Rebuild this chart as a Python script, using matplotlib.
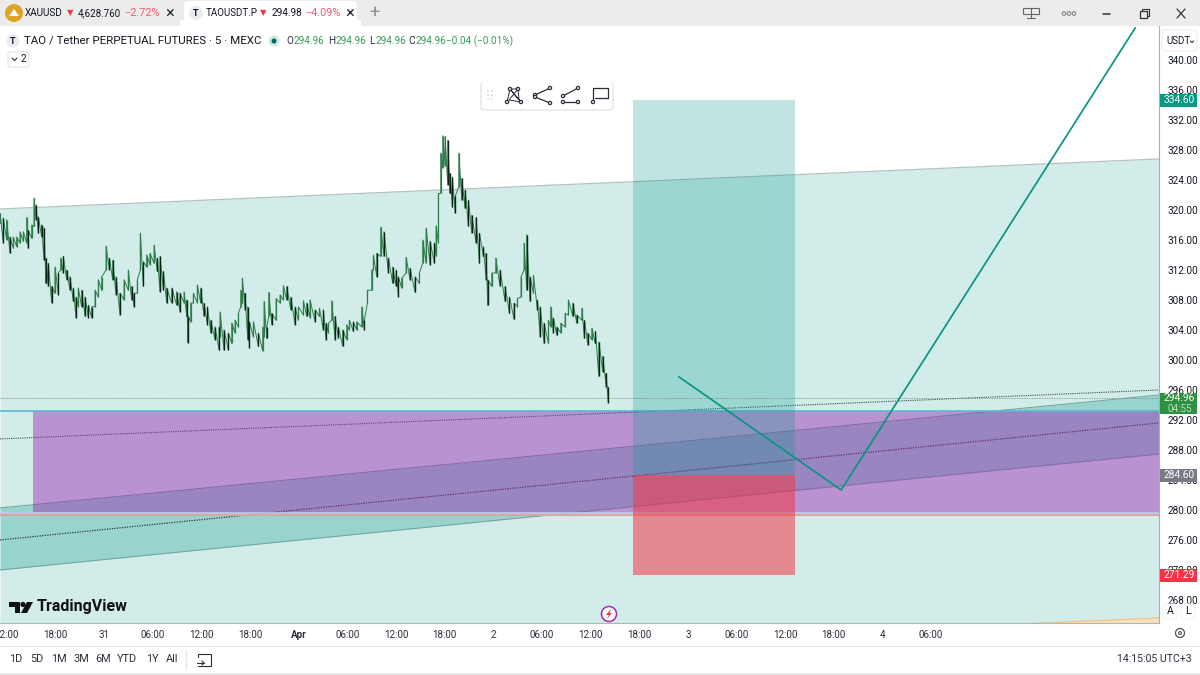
import matplotlib
matplotlib.use("Agg")
import matplotlib.pyplot as plt
from matplotlib.patches import Rectangle, FancyBboxPatch, Circle, Polygon
from matplotlib.transforms import blended_transform_factory
import numpy as np

plt.rcParams['font.family'] = ['Roboto', 'DejaVu Sans']

# hours since 31 Mar 00:00
bar_hours = [-12.83,-12.42,-12.01,-11.6,-11.19,-10.77,-10.36,-9.95,-9.54,-9.34,-8.92,-8.64,-8.39,-8.1,-7.69,-7.4,-7.16,-6.87,-6.46,-6.05,-5.63,-5.35,-5.02,-4.61,-4.2,-3.78,-3.46,-3.17,-2.76,-2.34,-1.93,-1.52,-1.11,-0.7,-0.29,0.25,0.66,1.07,1.48,1.97,2.47,3.0,3.41,3.7,4.11,4.48,4.85,5.26,5.67,6.17,6.58,6.91,7.32,7.73,8.35,8.96,9.37,9.87,10.2,10.36,10.69,11.02,11.51,11.92,12.33,12.75,13.16,13.69,14.19,14.31,14.8,15.34,15.75,16.16,16.57,16.86,17.06,17.39,17.72,17.93,18.42,19.04,19.57,19.74,20.07,20.31,20.68,21.22,21.71,22.12,22.53,23.03,23.56,23.97,24.59,25.0,25.41,26.03,26.56,
             27.05,27.38,27.67,28.08,28.49,28.9,29.44,29.93,30.26,30.75,31.16,31.78,32.11,32.48,33.01,33.22,33.63,34.12,34.53,35.07,35.6,36.02,36.3,36.71,37.25,37.74,38.36,38.89,39.3,39.72,40.21,40.74,40.95,41.24,41.52,41.77,42.06,42.39,42.68,42.96,43.29,43.75,44.12,44.53,44.94,45.35,45.88,46.3,46.79,47.12,47.32,47.82,48.31,48.84,49.46,50.0,50.57,50.98,51.43,51.8,52.13,52.54,52.96,53.45,53.78,54.27,54.81,55.09,55.42,55.83,56.33,56.86,57.27,57.81,58.3,58.92,59.25,59.66,60.15,60.6,61.02,61.51,61.92,62.17]
bar_high = [319.6,318.9,318.7,316.4,316.4,316.4,317.1,317.1,319.0,317.3,318.0,321.6,320.7,319.1,318.0,317.6,313.6,312.9,309.8,312.4,311.6,313.6,313.8,312.0,311.1,309.6,308.4,309.6,309.3,308.4,307.3,307.1,309.3,310.7,311.1,315.2,313.6,313.3,311.1,308.9,310.7,312.0,309.8,308.9,310.7,316.9,313.1,314.0,314.2,315.3,313.6,313.8,311.8,309.6,309.6,309.1,308.9,309.1,308.0,305.8,307.6,308.9,310.0,309.6,307.6,307.1,305.3,304.4,304.4,306.4,304.0,303.6,304.9,305.3,306.2,309.3,310.9,308.9,307.1,305.1,305.1,303.6,304.4,307.8,304.4,309.0,306.2,308.2,308.7,309.9,309.8,308.4,307.1,307.1,307.9,307.6,308.0,306.7,306.9,
            306.7,304.9,304.9,307.9,305.8,304.4,304.0,304.7,305.3,305.1,305.1,307.1,305.3,309.3,312.0,314.0,314.2,317.7,317.1,313.6,312.4,312.0,311.1,310.9,313.7,312.2,311.1,311.6,316.0,317.6,315.8,315.6,317.9,322.2,327.6,329.9,329.8,329.3,324.9,324.4,321.8,327.6,324.2,322.7,321.3,319.3,319.0,316.9,315.1,314.2,310.7,311.6,313.6,312.0,309.8,308.4,307.6,308.2,311.1,315.6,316.7,311.1,311.3,308.0,307.1,304.9,305.3,307.1,305.6,304.4,304.9,306.2,308.0,307.6,306.0,306.9,305.3,303.6,304.2,303.8,302.4,300.5,298.2,296.4]
bar_low = [318.2,315.6,316.0,314.2,314.9,315.1,315.6,315.8,315.6,314.9,316.2,317.8,318.7,316.9,316.4,313.3,310.2,309.8,307.6,308.9,308.7,312.0,311.6,310.7,309.3,307.8,305.6,307.1,307.1,305.8,305.6,305.6,307.1,308.4,309.3,312.0,312.0,310.7,308.7,306.0,308.0,309.3,308.0,307.1,308.9,312.0,309.8,312.4,312.7,312.9,311.8,309.1,309.3,307.6,307.6,307.3,306.4,307.6,305.8,302.3,305.1,307.6,307.6,307.6,305.8,304.7,303.6,302.7,301.3,303.1,301.3,301.3,302.2,303.6,304.4,307.1,307.6,306.7,302.7,301.6,303.1,301.8,301.2,303.1,302.9,305.8,304.7,305.3,307.6,308.0,308.0,306.7,304.7,305.3,306.0,305.8,305.6,305.1,305.8,
           304.0,302.7,303.6,305.3,302.7,302.9,301.8,302.7,304.0,303.8,304.0,304.4,304.0,307.6,309.3,312.0,311.1,313.8,313.8,311.6,310.2,309.8,308.4,309.6,311.6,310.7,309.0,310.2,312.9,312.9,312.7,312.9,313.8,315.6,322.2,325.6,325.8,323.3,322.2,320.4,319.6,323.1,321.3,320.2,317.8,316.9,315.6,312.9,313.8,310.7,307.3,309.8,311.6,309.8,307.8,306.2,305.4,307.1,308.4,312.0,309.3,307.8,308.9,306.7,303.1,302.2,302.2,304.4,303.6,303.3,303.6,304.4,306.0,305.8,304.9,305.3,302.9,302.0,302.7,302.2,297.8,298.4,296.4,294.3]

# drawings: price at the left and right pane edge
main_top = [320.13, 326.8]
main_mid = [289.47, 296.0]
main_bottom = [258.93, 265.6]
low_top = [280.27, 295.33]
low_mid = [276.0, 291.6]
low_bottom = [272.0, 287.47]

zone_start = -8.76
zone_top = 293.2
zone_bottom = 279.6
support_level = 279.3

pos_start = 65.24
pos_end = 85.23
pos_tp = 334.6
pos_entry = 284.6
pos_sl = 271.29

path_hours = [70.92, 90.9, 127.16]
path_price = [297.73, 282.67, 344.27]

last_price = 294.96

y_ticks = [268, 272, 276, 280, 284, 288, 292, 296, 300, 304, 308, 312, 316, 320, 324, 328, 332, 336, 340]
x_ticks = [-12, -6, 0, 6, 12, 18, 24, 30, 36, 42, 48, 54, 60, 66, 72, 78, 84, 90, 96, 102]
x_labels = ['12:00', '18:00', '31', '06:00', '12:00', '18:00', 'Apr', '06:00', '12:00', '18:00', '2', '06:00', '12:00', '18:00',
            '3', '06:00', '12:00', '18:00', '4', '06:00']
range_buttons = ['1D', '5D', '1M', '3M', '6M', 'YTD', '1Y', 'All']
range_x = [16, 37, 59, 81, 103, 127, 152, 172]

TEAL = '#009688'
INK = '#131722'
GREEN_TXT = '#3a9a5c'
RED_TXT = '#f23645'

fig = plt.figure(figsize=(12, 6.75), dpi=100, facecolor='white')
ax = fig.add_axes([0, 1 - 623 / 675, 1159 / 1200, (623 - 26) / 675])
left_h, right_h = -12.83, 130.1
ax.set_xlim(left_h, right_h)
ax.set_ylim(264.93, 344.53)
ends = [left_h, right_h]

# channels and zones
ax.fill_between(ends, main_bottom, main_top, color=TEAL, alpha=0.18, lw=0)
ax.fill_between(ends, main_bottom, [260, 260], color='#fbe0bd', lw=0, zorder=1.1)
ax.plot(ends, main_bottom, color='#f3c48c', lw=1)
ax.plot(ends, main_top, color='#b4c2c0', lw=0.9)
ax.plot(ends, main_mid, color='#40504e', lw=0.8, ls=(0, (1, 1)))
ax.fill_between(ends, low_bottom, low_top, color=TEAL, alpha=0.27, lw=0)
ax.plot(ends, low_top, color='#76a8a2', lw=0.8)
ax.plot(ends, low_bottom, color='#76a8a2', lw=0.8)
ax.plot(ends, low_mid, color='#2d3d3b', lw=0.9, ls=(0, (1, 1)))

ax.add_patch(Rectangle((zone_start, zone_bottom), right_h - zone_start, zone_top - zone_bottom,
                       facecolor='#9c27b0', alpha=0.45, lw=0, zorder=2))
ax.axhline(zone_top, color='#5cb6d6', lw=1.2, zorder=2.1)
ax.axhline(zone_bottom + 0.03, color='#b9cdea', lw=1.2, zorder=2.1)
ax.axhline(support_level, color='#d8a79f', lw=1.5, zorder=2.1)

ax.add_patch(Rectangle((pos_start, pos_entry), pos_end - pos_start, pos_tp - pos_entry,
                       facecolor=TEAL, alpha=0.25, lw=0, zorder=2.2))
ax.add_patch(Rectangle((pos_start, pos_sl), pos_end - pos_start, pos_entry - pos_sl,
                       facecolor='#f23645', alpha=0.55, lw=0, zorder=2.2))

ax.axhline(last_price, color='#7d8c8a', lw=0.6, ls=(0, (1, 1)), zorder=2.3)
ax.plot(path_hours, path_price, color='#0a9583', lw=1.25, zorder=3)

# price bars: a jagged line through lows and highs, then the bars on top
hours = np.array(bar_hours)
high = np.array(bar_high)
low = np.array(bar_low)
mid = (high + low) / 2
up = np.r_[True, np.diff(mid) > 0]
ax.plot(np.repeat(hours, 2), np.column_stack([low, high]).ravel(), color='#2f7d4b', lw=0.7, zorder=3.1)
ax.vlines(hours[up], low[up], high[up], color='#2f7d4b', lw=0.9, zorder=3.2)
ax.vlines(hours[~up], low[~up], high[~up], color='#0c2414', lw=1.0, zorder=3.3)

# axes
ax.set_yticks(y_ticks, [f'{v:.2f}' for v in y_ticks])
ax.yaxis.tick_right()
ax.set_xticks(x_ticks, x_labels)
ax.tick_params(axis='y', length=0, pad=6, labelsize=7.2, labelcolor=INK)
ax.tick_params(axis='x', length=0, pad=5, labelsize=7.1, labelcolor='#2a2e39')
for lab, txt in zip(ax.get_xticklabels(), x_labels):
    if txt == 'Apr':
        lab.set_fontweight('bold')
for s in ['top', 'left']:
    ax.spines[s].set_visible(False)
ax.spines['right'].set_color('#a9adb5')
ax.spines['bottom'].set_color('#9fbdb9')

# price flags on the scale
flag_tr = blended_transform_factory(ax.transAxes, ax.transData)
def flag(price, color, text, top=0.87, bottom=0.87):
    ax.add_patch(Rectangle((1.0007, price - bottom), 0.0325, top + bottom, transform=flag_tr,
                           facecolor=color, lw=0, clip_on=False, zorder=6))
    ax.text(1.0175, price, text, transform=flag_tr, ha='center', va='center',
            color='white', fontsize=7.3, clip_on=False, zorder=7)

flag(pos_tp, '#089981', '334.60')
flag(pos_entry, '#787b86', '284.60')
flag(pos_sl, '#f23645', '271.29')
flag(last_price, '#2e9141', '294.96', top=0.7, bottom=2.2)
ax.text(1.0175, last_price - 1.45, '04:55', transform=flag_tr, ha='center', va='center',
        color='#b9e0c0', fontsize=7.1, clip_on=False, zorder=7)

# window chrome in pixel space
ui = fig.add_axes([0, 0, 1, 1], zorder=10)
ui.set_xlim(0, 1200)
ui.set_ylim(675, 0)
ui.axis('off')

def label(x, y, s, size=7.3, color=INK, ha='left', **kw):
    ui.text(x, y, s, fontsize=size, color=color, ha=ha, va='center', **kw)

def segs(points, color='#3a3e48', lw=1.0):
    xs, ys = zip(*points)
    ui.plot(xs, ys, color=color, lw=lw, solid_capstyle='round')

def dot(x, y, r=1.6, fc='white', ec='#2a2e39', lw=0.9):
    ui.add_patch(Circle((x, y), r, facecolor=fc, edgecolor=ec, lw=lw, zorder=12))

ui.add_patch(Rectangle((0, 0), 1200, 26, facecolor='#ececec', lw=0))
ui.add_patch(FancyBboxPatch((184, 1), 173, 30, boxstyle='round,pad=0,rounding_size=5', facecolor='white', lw=0))
ui.add_patch(Rectangle((180, 20), 181, 6, facecolor='white', lw=0))

ui.add_patch(Circle((14, 13), 9, facecolor='#e0a526', lw=0))
ui.add_patch(Polygon([(9, 16), (14, 9), (19, 16)], facecolor='white', lw=0))
label(25, 13, 'XAUUSD', 7.2)
label(67, 13, '▼', 6, RED_TXT)
label(78, 13, '4,628.760', 7.0)
label(124, 13, '−2.72%', 7.8, '#ee5f6c')
label(165, 13, '×', 12, '#2a2e39')
ui.add_patch(Circle((196, 13), 7, facecolor='#e9ebf3', lw=0))
label(196, 13, 'T', 6.5, ha='center', fontweight='bold')
label(206, 13, 'TAOUSDT.P', 7.0)
label(260, 13, '▼', 6, RED_TXT)
label(272, 13, '294.98', 7.2)
label(305, 13, '−4.09%', 7.8, '#ee5f6c')
label(345, 13, '×', 12, '#2a2e39')
label(374, 13, '+', 13, '#8a8e96', ha='center')

# window buttons
ui.add_patch(Rectangle((1023, 8), 16, 6, facecolor='none', edgecolor='#666', lw=0.8))
segs([(1031, 8), (1031, 18)], '#666', 0.8)
segs([(1027, 18), (1035, 18)], '#666', 0.8)
for dx in [1064, 1069, 1074]:
    dot(dx, 13.5, 1.8, 'none', '#777', 0.7)
segs([(1103, 13.5), (1110, 13.5)], '#333', 1.1)
ui.add_patch(Rectangle((1140, 11), 7, 7, facecolor='none', edgecolor='#333', lw=0.9))
segs([(1142, 11), (1142, 9), (1149, 9), (1149, 16), (1147, 16)], '#333', 0.8)
segs([(1177, 9), (1185, 18)], '#333', 0.9)
segs([(1185, 9), (1177, 18)], '#333', 0.9)

# legend row
ui.add_patch(Circle((13, 41), 6.5, facecolor='#e9ebf3', lw=0))
label(13, 41, 'T', 6.5, ha='center', fontweight='bold')
label(24, 41, 'TAO / Tether PERPETUAL FUTURES · 5 · MEXC', 8.25)
ui.add_patch(Circle((274, 41), 5.5, facecolor='#c9ece6', lw=0))
ui.add_patch(Circle((274, 41), 2.5, facecolor='#00695c', lw=0))
for x_key, x_val, key in [(286, 294, 'O'), (328, 336, 'H'), (369, 376, 'L'), (408, 416, 'C')]:
    label(x_key, 41, key, 7.2, '#2a2e39')
    label(x_val, 41, '294.96', 7.2, GREEN_TXT)
label(446, 41, '−0.04 (−0.01%)', 7.2, GREEN_TXT)
ui.add_patch(FancyBboxPatch((8, 52), 21, 15, boxstyle='round,pad=0,rounding_size=2', facecolor='white', edgecolor='#e0e3eb', lw=0.8))
segs([(12, 58), (14.5, 60.5), (17, 58)], '#2a2e39', 0.8)
label(21, 59.5, '2', 7.2)

# USDT button and auto/log buttons on the scale
ui.add_patch(FancyBboxPatch((1162, 30), 35, 21, boxstyle='round,pad=0,rounding_size=3', facecolor='white', edgecolor='#eceef2', lw=0.8))
label(1166, 41, 'USDT', 7.0)
segs([(1190.5, 41), (1192, 42.5), (1193.5, 41)], '#2a2e39', 0.8)
for bx, t in [(1170, 'A'), (1188, 'L')]:
    ui.add_patch(FancyBboxPatch((bx - 7, 604), 14, 15, boxstyle='round,pad=0,rounding_size=3', facecolor='white', edgecolor='#f0f1f4', lw=0.8))
    label(bx, 611.5, t, 7.6, ha='center')

# floating drawing toolbar
ui.add_patch(FancyBboxPatch((480, 82), 134, 29, boxstyle='round,pad=0,rounding_size=4', facecolor='#ececef', edgecolor='none', lw=0))
ui.add_patch(FancyBboxPatch((482, 82), 130, 27, boxstyle='round,pad=0,rounding_size=3', facecolor='white', edgecolor='none', lw=0))
for gx in [488, 492]:
    for gy in [91, 95, 99]:
        dot(gx, gy, 0.6, '#c6c8cf', '#c6c8cf', 0.2)
segs([(507, 102), (510, 89), (519, 100), (518, 89), (509, 100), (521, 102), (510, 89), (518, 89)], '#2a2e39', 0.7)
for p in [(507, 102), (510, 89), (518, 89), (521, 102)]:
    dot(*p)
segs([(550, 88), (535, 95)], '#2a2e39', 0.9)
segs([(535, 97), (550, 103)], '#2a2e39', 0.9)
for p in [(550, 88), (535, 95), (535, 97), (550, 103)]:
    dot(*p)
segs([(578, 88), (563, 96)], '#2a2e39', 0.9)
segs([(563, 102), (578, 102)], '#2a2e39', 0.9)
for p in [(578, 88), (563, 96), (563, 102), (578, 102)]:
    dot(*p)
segs([(593, 102), (593, 88), (608, 88), (608, 98), (595, 98)], '#2a2e39', 0.9)
dot(593, 102)

# TradingView logo
ui.add_patch(Polygon([(9, 602), (20, 602), (20, 613), (14.5, 613), (14.5, 607), (9, 607)], facecolor='#111', lw=0))
ui.add_patch(Circle((23, 604.5), 2.6, facecolor='#111', lw=0))
ui.add_patch(Polygon([(27, 602), (33, 602), (27, 613), (21, 613)], facecolor='#111', lw=0))
label(37, 607, 'TradingView', 11.5, '#111', fontweight='bold')

# lightning button
ui.add_patch(Circle((609, 614), 7.5, facecolor='white', edgecolor='#a02bb0', lw=1.1))
ui.add_patch(Polygon([(611, 609), (606, 615), (609, 615), (607, 619), (612, 613), (609.5, 613)], facecolor='#f23645', lw=0))

# gear on the time axis
dot(1180, 633, 4.5, 'none', '#50535e', 0.9)
dot(1180, 633, 1.4, 'none', '#50535e', 0.8)

# bottom toolbar
ui.plot([0, 1200], [645.5, 645.5], color='#e3e5ea', lw=0.9)
ui.add_patch(Rectangle((0, 672.5), 1200, 3, facecolor='#e8e8e8', lw=0))
for x, t in zip(range_x, range_buttons):
    label(x, 659, t, 7.8, '#2a2e39', ha='center')
ui.plot([186, 186], [650, 668], color='#e3e5ea', lw=0.9)
ui.add_patch(Rectangle((198, 654), 13, 12, facecolor='none', edgecolor='#2a2e39', lw=0.8))
ui.add_patch(Rectangle((196, 658), 6, 8, facecolor='white', lw=0))
segs([(197, 663), (204, 663)], '#2a2e39', 0.8)
segs([(202, 661), (204, 663), (202, 665)], '#2a2e39', 0.8)
label(1192, 659, '14:15:05 UTC+3', 7.6, '#2a2e39', ha='right')

fig.savefig('out.png', dpi=100)
